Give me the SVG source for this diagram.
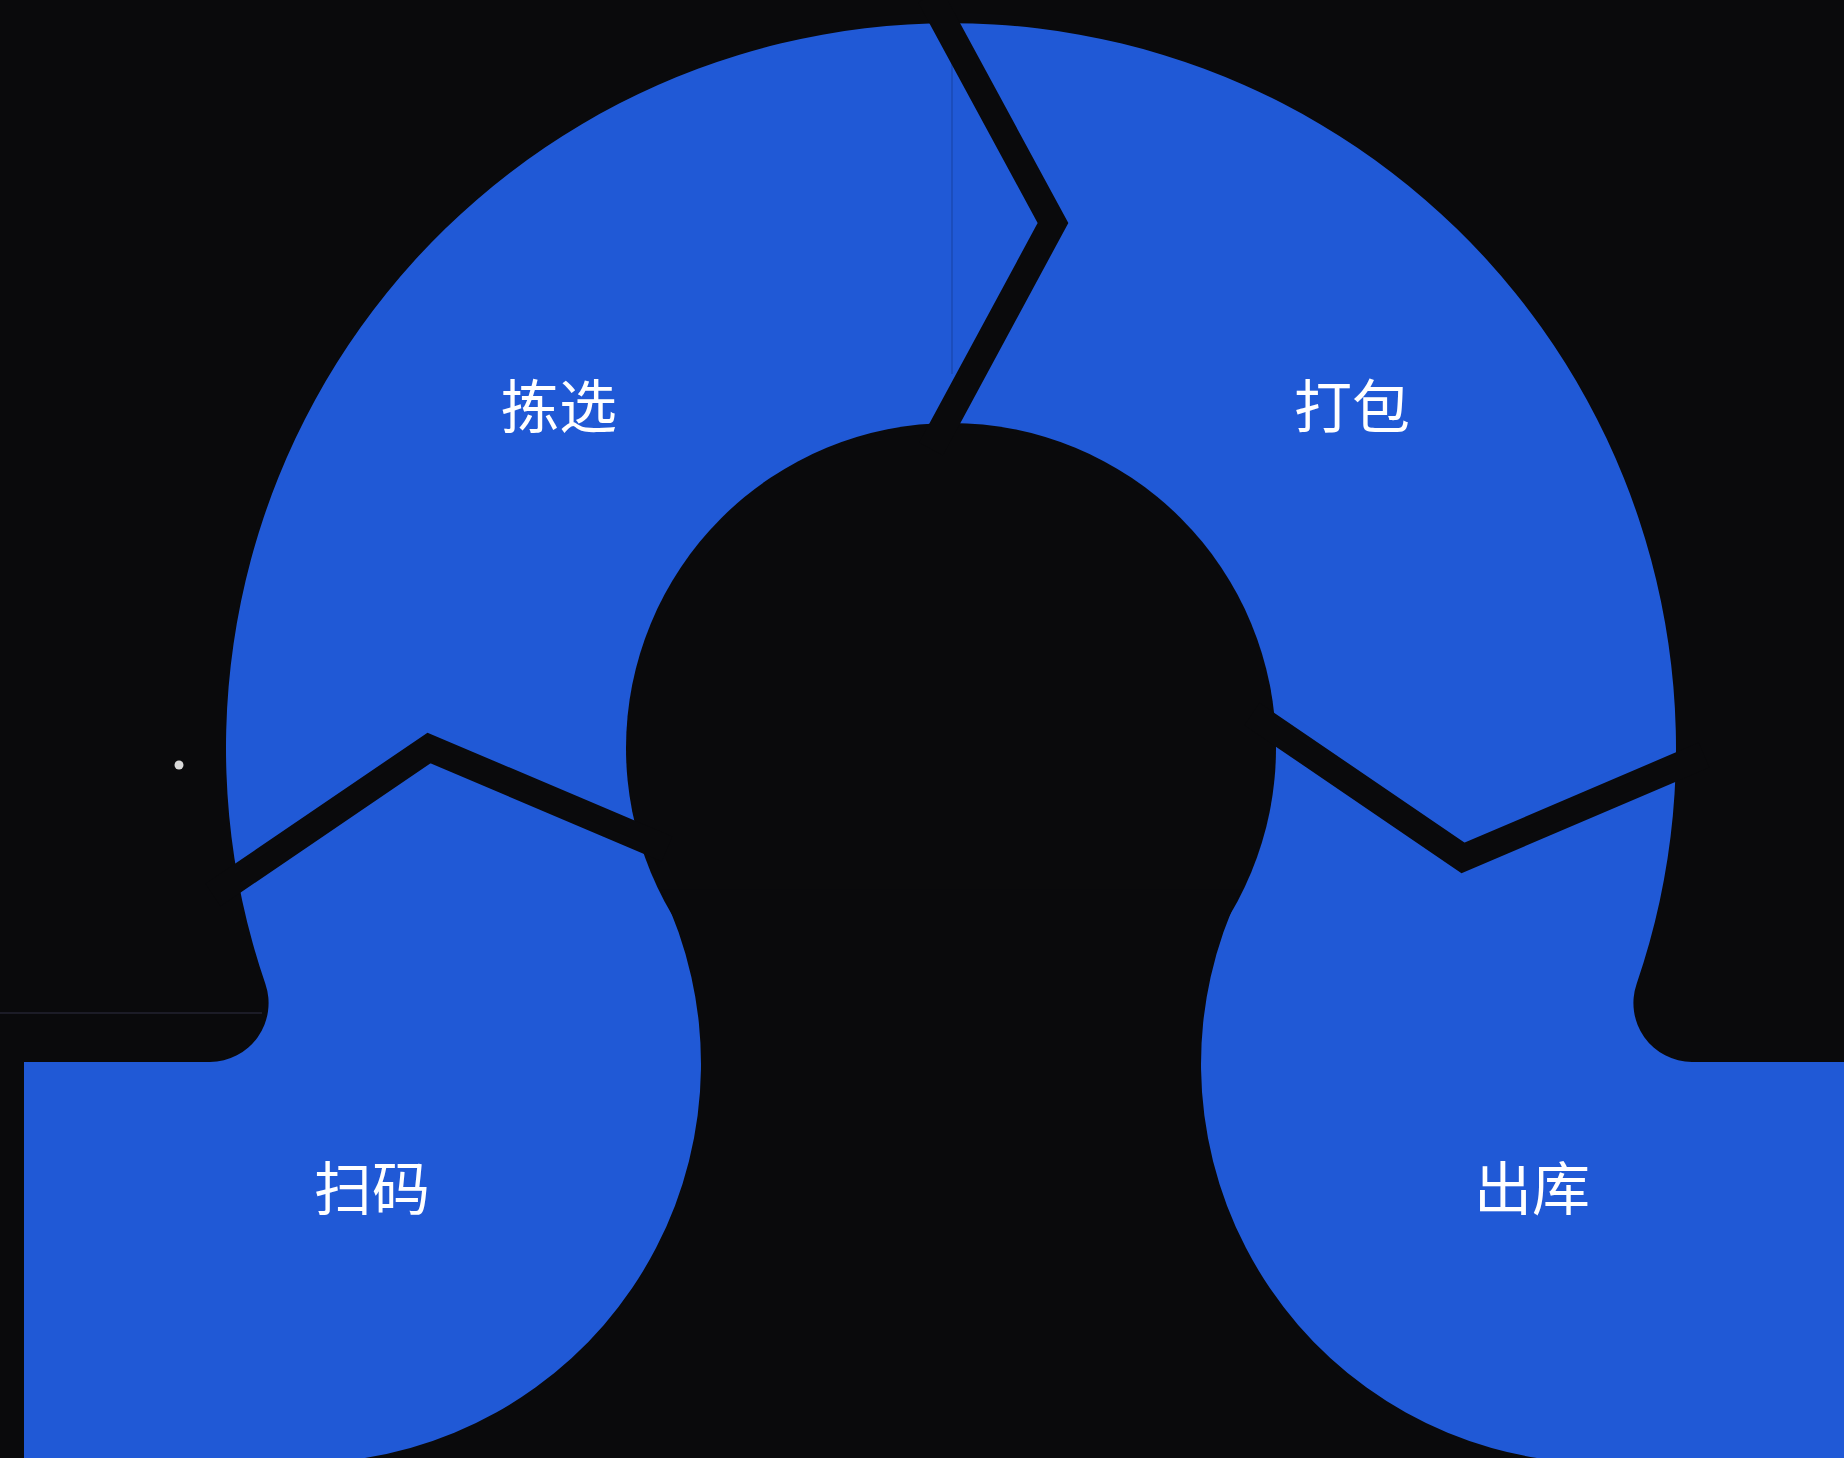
<svg xmlns="http://www.w3.org/2000/svg" width="1844" height="1458" viewBox="0 0 1844 1458">
  <style>
    .bg { fill: #0a0a0c; }
    .blue { fill: #2059d6; }
    .cut { fill: #0a0a0c; }
    .gap { fill: none; stroke: #0a0a0c; stroke-width: 27; stroke-linejoin: miter; stroke-miterlimit: 10; }
    .lbl { font-family: "Noto Sans CJK SC", "Noto Sans", sans-serif; font-size: 58px; font-weight: 400; fill: #ffffff; text-anchor: middle; }
  </style>
  <rect class="bg" x="0" y="0" width="1844" height="1458"/>
  <line x1="0" y1="1013" x2="262" y2="1013" stroke="#1c1c27" stroke-width="2"/>
  <circle cx="179" cy="765" r="4.5" fill="#d9d9d9"/>

  <g id="shape">
    <path class="blue" d="M 24 1460 L 24 1062 L 210 1062 A 59 59 0 0 0 265.4 983.9 A 725 725 0 1 1 1636.6 983.9 A 59 59 0 0 0 1692 1062 L 1844 1062 L 1844 1460 Z"/>
    <line x1="952" y1="62" x2="952" y2="374" stroke="#1a4ab3" stroke-width="1.5"/>
    <circle class="cut" cx="951" cy="748" r="325"/>
    <path class="cut" d="M 660.7 889.3 A 399 399 0 0 1 365 1458 L 365 1460 L 1537 1460 L 1537 1458 A 399 399 0 0 1 1241.3 889.3 Z"/>
  </g>

  <g id="connectors">
    <polyline class="gap" points="930,-4 1053,223 931,449"/>
    <polyline class="gap" points="213,895 429,748 667,849"/>
    <polyline class="gap" stroke-width="23" points="1252,714 1463,858 1704,755"/>
  </g>

  <g id="node-pick"><text class="lbl" x="559" y="428">拣选</text></g>
  <g id="node-pack"><text class="lbl" x="1352" y="428">打包</text></g>
  <g id="node-scan"><text class="lbl" x="372" y="1210">扫码</text></g>
  <g id="node-out"><text class="lbl" x="1532" y="1210">出库</text></g>
</svg>
